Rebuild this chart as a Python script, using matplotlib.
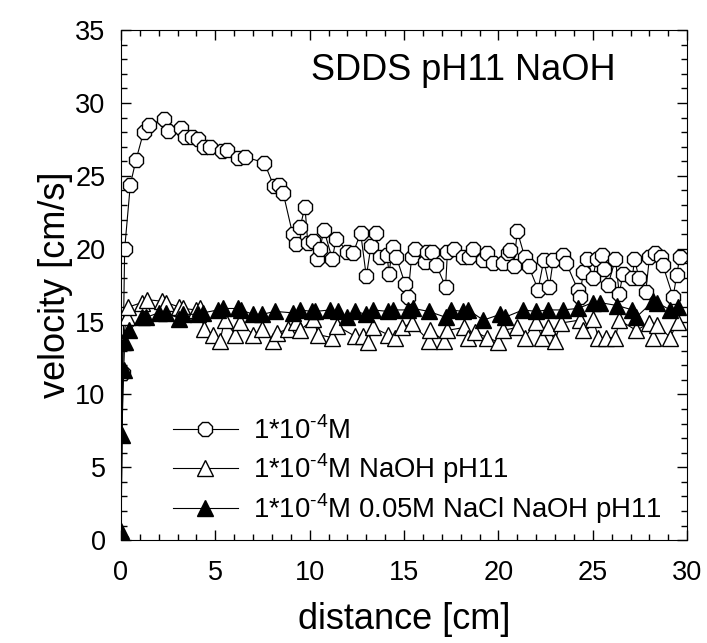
import matplotlib
matplotlib.use("Agg")
import matplotlib.pyplot as plt
from matplotlib.ticker import MultipleLocator

plt.rcParams['font.family'] = ['Liberation Sans', 'DejaVu Sans']
plt.rcParams['mathtext.fontset'] = 'custom'
plt.rcParams['mathtext.rm'] = 'Liberation Sans'

# 1*10^-4 M (open circles)
x_plain = [0, 0.1, 0.2, 0.5, 0.8, 1.2, 1.5, 2.3, 2.5, 3.2, 3.4, 3.75, 4.1, 4.4, 4.7,
           5.35, 5.6, 6.2, 6.6, 7.6, 8.1, 8.4, 8.6, 9.1, 9.3, 9.5, 9.75, 9.9, 10.2,
           10.4, 10.55, 10.75, 11.2, 11.4, 12.0, 12.3, 12.7, 13.0, 13.25, 13.5, 13.7,
           14.1, 14.2, 14.4, 14.6, 15.05, 15.2, 15.4, 15.6, 16.1, 16.2, 16.5, 16.7,
           17.2, 17.3, 17.65, 18.1, 18.45, 18.65, 19.2, 19.4, 19.7, 20.25, 20.5, 20.6,
           20.8, 21.0, 21.4, 21.6, 22.1, 22.4, 22.7, 22.9, 23.4, 23.6, 24.2, 24.3,
           24.5, 24.7, 25.0, 25.2, 25.5, 25.6, 25.8, 26.2, 26.4, 26.6, 27.1, 27.2,
           27.45, 27.8, 28.0, 28.3, 28.6, 28.7, 29.25, 29.45, 29.6]
v_plain = [0, 11.5, 20.0, 24.4, 26.1, 28.0, 28.5, 28.9, 28.1, 28.3, 27.7, 27.7, 27.5, 27.0, 27.0,
           26.7, 26.8, 26.2, 26.3, 25.9, 24.3, 24.4, 23.8, 21.0, 20.3, 21.5, 22.9, 20.4, 20.5,
           19.3, 20.0, 21.3, 19.3, 20.7, 19.8, 19.7, 21.1, 18.1, 20.2, 21.1, 19.4,
           19.6, 18.3, 20.1, 19.4, 17.6, 16.7, 19.4, 20.0, 19.1, 19.8, 19.8, 18.9,
           17.4, 19.8, 20.0, 19.4, 19.4, 20.0, 19.2, 19.7, 19.0, 19.0, 19.7, 19.9,
           18.8, 21.2, 19.4, 18.8, 17.2, 19.2, 17.4, 19.2, 19.6, 19.0, 17.2, 16.7,
           18.4, 19.3, 18.0, 19.3, 19.6, 18.6, 17.5, 19.3, 16.9, 18.3, 18.0, 19.3,
           18.0, 17.0, 19.4, 19.7, 19.4, 18.9, 16.7, 18.2, 19.4]

# 1*10^-4 M NaOH pH11 (open triangles)
x_naoh = [0, 0.1, 0.3, 0.4, 1.1, 1.4, 2.2, 2.4, 3.1, 3.3, 4.0, 4.2, 4.4, 4.9, 5.25, 5.5,
          6.05, 6.3, 7.0, 7.5, 8.05, 8.25, 8.85, 9.3, 9.5, 10.2, 10.45, 11.2, 11.45,
          12.4, 12.8, 13.1, 13.35, 14.15, 14.5, 14.9, 15.4, 16.3, 16.4, 17.1, 17.3,
          18.2, 18.4, 18.75, 19.4, 20.0, 20.25, 21.0, 21.4, 22.0, 22.3, 22.6, 23.0,
          23.3, 24.3, 24.5, 25.0, 25.3, 25.7, 26.2, 26.4, 27.3, 28.0, 28.2, 28.4,
          29.1, 29.5]
v_naoh = [0, 13.6, 15.3, 16.0, 16.3, 16.5, 16.4, 16.3, 16.0, 15.9, 15.8, 15.9, 14.5, 14.1, 13.7, 15.1,
          14.1, 15.0, 14.1, 14.5, 13.7, 14.2, 14.5, 15.0, 14.4, 15.2, 14.1, 13.9, 14.7,
          14.0, 14.0, 13.6, 14.6, 14.1, 13.9, 14.6, 14.9, 13.7, 14.4, 13.7, 14.4,
          14.6, 13.9, 14.3, 13.9, 13.6, 14.4, 14.6, 13.9, 15.0, 13.9, 14.6, 13.7,
          14.9, 15.1, 14.4, 15.2, 13.9, 13.9, 13.9, 15.1, 14.4, 14.9, 13.9, 14.8,
          13.9, 15.0]

# 1*10^-4 M 0.05M NaCl NaOH pH11 (filled triangles)
x_nacl = [0, 0.02, 0.05, 0.15, 0.2, 0.45, 1.1, 1.35, 2.0, 2.4, 3.1, 3.3, 4.1, 4.35, 5.15,
          5.4, 6.2, 6.35, 7.0, 7.5, 8.15, 9.1, 9.5, 10.1, 10.3, 11.1, 11.5, 12.0, 12.4,
          13.0, 13.35, 14.15, 14.4, 15.2, 15.5, 16.3, 17.2, 17.5, 18.1, 18.4, 19.2,
          20.1, 20.35, 21.3, 22.0, 22.6, 23.4, 24.2, 25.0, 25.4, 26.3, 27.1, 27.3,
          28.2, 28.4, 29.1, 29.5]
v_nacl = [0, 0.6, 7.2, 11.7, 13.6, 14.4, 15.3, 15.3, 15.6, 15.6, 15.2, 15.5, 15.5, 15.6, 15.8,
          15.9, 15.9, 15.8, 15.5, 15.5, 15.7, 15.6, 15.8, 15.7, 15.7, 15.8, 15.7, 15.3, 15.7,
          15.5, 15.8, 15.7, 15.8, 15.8, 15.9, 15.7, 15.3, 15.8, 15.7, 15.8, 15.1,
          15.5, 15.3, 15.8, 15.7, 15.8, 15.8, 15.9, 16.3, 16.3, 16.1, 15.8, 15.3,
          16.4, 16.3, 15.8, 16.0]

fig = plt.figure(figsize=(7.07, 6.43), dpi=100)
ax = fig.add_axes([0.171, 0.160, 0.801, 0.793])

ax.plot(x_plain, v_plain, color='black', lw=0.8, marker='8', ms=11,
        mfc='white', mec='black', mew=1.0, label=r'1*10$^{\text{-4}}$M')
ax.plot(x_naoh, v_naoh, color='black', lw=0.8, marker='^', ms=11,
        mfc='white', mec='black', mew=1.0, label=r'1*10$^{\text{-4}}$M NaOH pH11')
ax.plot(x_nacl, v_nacl, color='black', lw=0.8, marker='^', ms=11,
        mfc='black', mec='black', mew=1.0, label=r'1*10$^{\text{-4}}$M 0.05M NaCl NaOH pH11')

ax.set_xlim(0, 30)
ax.set_ylim(0, 35)
ax.xaxis.set_major_locator(MultipleLocator(5))
ax.xaxis.set_minor_locator(MultipleLocator(1))
ax.yaxis.set_major_locator(MultipleLocator(5))
ax.yaxis.set_minor_locator(MultipleLocator(1))
ax.tick_params(which='both', direction='in', top=True, right=True, labelsize=19.5)
ax.tick_params(which='major', length=7, width=1)
ax.tick_params(which='minor', length=4, width=1)
ax.tick_params(axis='x', pad=14)
ax.tick_params(axis='y', pad=11)

ax.set_xlabel('distance [cm]', fontsize=26, labelpad=12)
ax.set_ylabel('velocity [cm/s]', fontsize=26, labelpad=2)

ax.text(0.336, 0.921, 'SDDS pH11 NaOH', transform=ax.transAxes,
        fontsize=26, ha='left', va='center')

ax.legend(loc='center left', bbox_to_anchor=(0.092, 0.135), frameon=False,
          fontsize=19.8, handlelength=2.35, handletextpad=0.55, labelspacing=0.22,
          borderpad=0, borderaxespad=0)

fig.savefig('out.png', dpi=100)
